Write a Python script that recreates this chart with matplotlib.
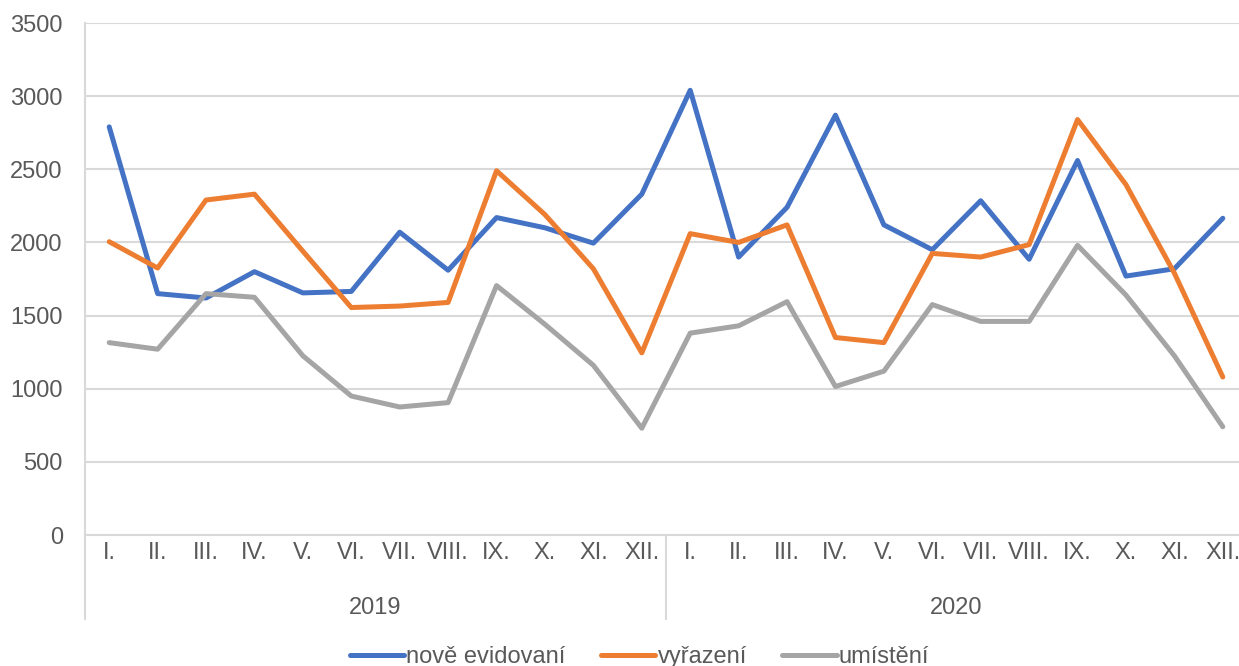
import matplotlib.pyplot as plt
import numpy as np

plt.rcParams['font.family'] = ['Liberation Sans', 'DejaVu Sans']

months = ['I.', 'II.', 'III.', 'IV.', 'V.', 'VI.', 'VII.', 'VIII.', 'IX.', 'X.', 'XI.', 'XII.']
years = ['2019', '2020']

nove = [2790, 1650, 1620, 1800, 1655, 1665, 2070, 1810, 2170, 2100, 1995, 2330,
        3040, 1900, 2240, 2870, 2120, 1950, 2285, 1885, 2560, 1770, 1820, 2165]
vyrazeni = [2005, 1825, 2290, 2330, 1940, 1555, 1565, 1590, 2490, 2190, 1820, 1245,
            2060, 2000, 2120, 1350, 1315, 1925, 1900, 1985, 2840, 2395, 1790, 1080]
umisteni = [1315, 1270, 1650, 1625, 1225, 950, 875, 905, 1705, 1440, 1160, 730,
            1380, 1430, 1595, 1015, 1120, 1575, 1460, 1460, 1980, 1640, 1225, 740]

text_col = '#595959'
grid_col = '#D9D9D9'
fs = 17

fig = plt.figure(figsize=(12.39, 6.66), dpi=100)
ax = fig.add_axes([85/1239, 1-535/666, (1247-85)/1239, (535-23)/666])

x = np.arange(len(nove))
ax.plot(x, nove, color='#4472C4', lw=3.6, label='nově evidovaní', solid_capstyle='round', solid_joinstyle='round')
ax.plot(x, vyrazeni, color='#ED7D31', lw=3.6, label='vyřazení', solid_capstyle='round', solid_joinstyle='round')
ax.plot(x, umisteni, color='#A5A5A5', lw=3.6, label='umístění', solid_capstyle='round', solid_joinstyle='round')

ax.set_xlim(-0.5, len(nove) - 0.5)
ax.set_ylim(0, 3500)
ax.set_yticks(np.arange(0, 3501, 500))
ax.yaxis.grid(True, color=grid_col, lw=1.5)
ax.set_axisbelow(True)

for s in ['top', 'right']:
    ax.spines[s].set_visible(False)
ax.spines['left'].set_color(grid_col)
ax.spines['left'].set_linewidth(1.5)
ax.spines['bottom'].set_color(grid_col)
ax.spines['bottom'].set_linewidth(1.5)

ax.set_xticks(x)
ax.set_xticklabels(months * len(years))
ax.tick_params(axis='x', length=0, pad=5, labelsize=fs, colors=text_col)
ax.tick_params(axis='y', length=0, pad=16, labelsize=fs, colors=text_col)

# year group labels and separators
trans = ax.get_xaxis_transform()
for i, yr in enumerate(years):
    ax.text(i * 12 + 5.5, -0.142, yr, transform=trans, ha='center', va='center',
            fontsize=fs, color=text_col)
for b in range(len(years) + 1):
    ax.plot([b * 12 - 0.5] * 2, [0, -0.165], transform=trans, color=grid_col,
            lw=1.5, clip_on=False)

fig.legend(loc='center', bbox_to_anchor=(0.5 + 20/1239, 9/666), ncol=3, frameon=False,
           fontsize=fs, labelcolor=text_col, handlelength=2.3, handletextpad=0.1,
           columnspacing=1.5)

fig.savefig('out.png', dpi=100)
